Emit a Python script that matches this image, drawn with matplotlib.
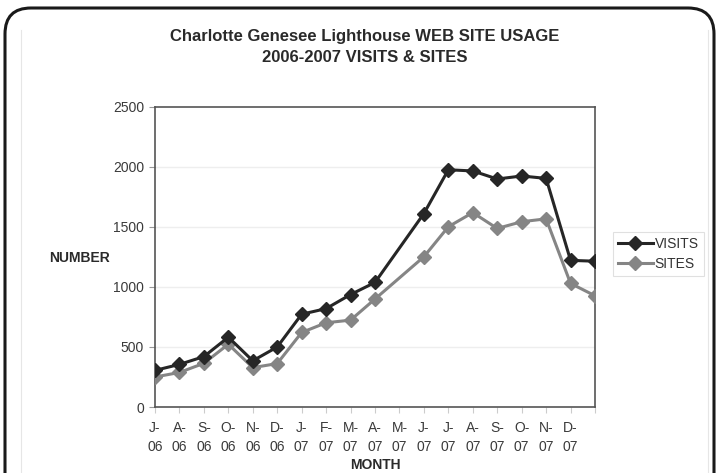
import numpy as np
import matplotlib
matplotlib.use("Agg")
import matplotlib.pyplot as plt
from matplotlib.patches import FancyBboxPatch

months = ["J-\n06", "A-\n06", "S-\n06", "O-\n06", "N-\n06", "D-\n06",
          "J-\n07", "F-\n07", "M-\n07", "A-\n07", "M-\n07", "J-\n07",
          "J-\n07", "A-\n07", "S-\n07", "O-\n07", "N-\n07", "D-\n07", ""]
visits = [305, 355, 420, 582, 385, 500, 773, 820, 937, 1038, np.nan, 1612,
          1977, 1967, 1900, 1925, 1905, 1222, 1215]
sites = [250, 288, 364, 523, 328, 362, 621, 702, 724, 900, np.nan, 1252,
         1502, 1620, 1488, 1544, 1568, 1030, 927]
yticks = [0, 500, 1000, 1500, 2000, 2500]

plt.rcParams['font.family'] = ['Liberation Sans', 'DejaVu Sans']

W, H = 717, 473
fig = plt.figure(figsize=(W / 100, H / 100), dpi=100)

# background frame
bg = fig.add_axes([0, 0, 1, 1], zorder=0)
bg.set_xlim(0, W)
bg.set_ylim(H, 0)
bg.axis('off')
bg.add_patch(FancyBboxPatch((5, 8), 709, 520, boxstyle='round,pad=0,rounding_size=26',
                            facecolor='white', edgecolor='#1a1a1a', linewidth=2.2))
bg.plot([21, 21], [30, H], color='#e6e6e6', linewidth=0.8)
bg.plot([708, 708], [30, H], color='#e6e6e6', linewidth=0.8)

L, R, T, B = 155, 595, 107, 407
ax = fig.add_axes([L / W, 1 - B / H, (R - L) / W, (B - T) / H], zorder=2)
ax.set_facecolor('none')

x = np.arange(len(months))
v = np.array(visits, dtype=float)
s = np.array(sites, dtype=float)
mv = ~np.isnan(v)
ms = ~np.isnan(s)

ax.plot(x[ms], s[ms], color='#858585', linewidth=2.2, marker='D', markersize=7,
        markeredgecolor='#858585', label='SITES', zorder=3)
ax.plot(x[mv], v[mv], color='#262626', linewidth=2.2, marker='D', markersize=7,
        markeredgecolor='#262626', label='VISITS', zorder=4)

ax.set_xlim(0, len(months) - 1)
ax.set_ylim(0, 2500)
ax.set_yticks(yticks)
ax.set_yticklabels([str(t) for t in yticks])
ax.set_xticks(x)
ax.set_xticklabels(months, linespacing=1.45)

for t in yticks[1:-1]:
    ax.axhline(t, color='#eeeeee', linewidth=1.0, zorder=1)

for sp in ax.spines.values():
    sp.set_color('#555555')
    sp.set_linewidth(1.2)

ax.tick_params(axis='y', length=4, width=0.8, color='#999999', labelsize=10,
               labelcolor='#3a3a3a', pad=4)
ax.tick_params(axis='x', length=4, width=0.8, color='#cccccc', labelsize=10,
               labelcolor='#3a3a3a', pad=6)

fig.text(365 / W, 1 - 37 / H, "Charlotte Genesee Lighthouse WEB SITE USAGE",
         ha='center', va='center', fontsize=12, fontweight='bold', color='#2a2a2a')
fig.text(365 / W, 1 - 57 / H, "2006-2007 VISITS & SITES",
         ha='center', va='center', fontsize=12, fontweight='bold', color='#2a2a2a')
fig.text(79 / W, 1 - 258 / H, "NUMBER", ha='center', va='center', fontsize=10,
         fontweight='bold', color='#2a2a2a')
fig.text(375 / W, 1 - 465 / H, "MONTH", ha='center', va='center', fontsize=10,
         fontweight='bold', color='#2a2a2a')

handles, labels = ax.get_legend_handles_labels()
leg = fig.legend(handles[::-1], labels[::-1], loc='upper left',
                 bbox_to_anchor=(613 / W, 1 - 232 / H), frameon=True, fancybox=False,
                 fontsize=10, handlelength=2.5, handletextpad=0.15, labelspacing=0.45,
                 borderpad=0.35, borderaxespad=0, framealpha=1)
leg.get_frame().set_edgecolor('#e0e0e0')
leg.get_frame().set_linewidth(0.8)
for t in leg.get_texts():
    t.set_color('#333333')
leg.set_zorder(5)

fig.savefig("out.png", dpi=100)
